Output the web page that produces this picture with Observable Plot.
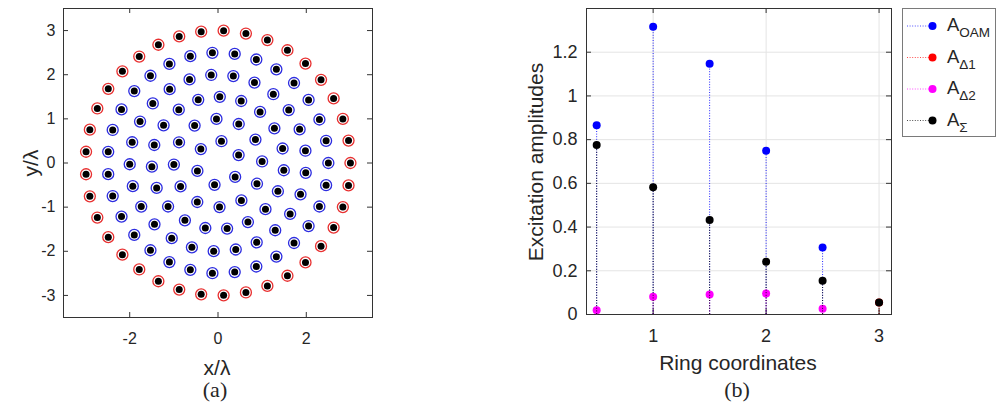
<!DOCTYPE html>
<html>
<head>
<meta charset="utf-8">
<script src="https://cdn.jsdelivr.net/npm/d3@7"></script>
<script src="https://cdn.jsdelivr.net/npm/@observablehq/plot@0.6"></script>
<style>
  body { margin: 0; background: #fff; }
  #root { position: relative; width: 1003px; height: 406px; overflow: hidden;
          font-family: "Liberation Sans", Arial, Helvetica, sans-serif; color: #262626; }
  #root > svg, .abs { position: absolute; }
  .lbl { position: absolute; white-space: nowrap; line-height: 1; transform: translate(-50%, -50%); }
  .rot { transform: translate(-50%, -50%) rotate(-90deg); }
  .serif { font-family: "Liberation Serif", "Times New Roman", serif; }
  .leg { position: absolute; left: 902px; top: 8px; width: 94px; height: 129px;
         border: 1px solid #7a7a7a; background: #fff; box-sizing: border-box; }
  .legtxt { position: absolute; left: 44px; font-size: 18.5px; line-height: 1; white-space: nowrap; }
  .legtxt sub { font-size: 13.5px; vertical-align: -6px; }
</style>
</head>
<body>
<div id="root"></div>
<script>
// ---------- Panel (a): concentric ring array ----------
const ringRadii     = [0.5, 1, 1.5, 2, 2.5, 3];        // x/λ
const ringCounts    = [6, 12, 19, 25, 31, 37];         // elements per ring
const ringStartDeg  = [21, 2, -6.3, 8, 0, 0];          // angle of first element
const ringColors    = ["#2d2de0", "#2d2de0", "#2d2de0", "#2d2de0", "#2d2de0", "#e83030"];
const aTicksX = [-2, 0, 2];
const aTicksY = [-3, -2, -1, 0, 1, 2, 3];

// ---------- Panel (b): excitation amplitudes per ring ----------
const ringCoords = [0.5, 1, 1.5, 2, 2.5, 3];
const ampOAM    = [0.866, 1.317, 1.147, 0.749, 0.307, null];
const ampDelta1 = [null, null, null, null, null, 0.055];
const ampDelta2 = [0.020, 0.081, 0.092, 0.096, 0.026, null];
const ampSigma  = [0.776, 0.582, 0.432, 0.241, 0.154, 0.055];
const bTicksX = [1, 2, 3];
const bTicksY = [0, 0.2, 0.4, 0.6, 0.8, 1, 1.2];

const seriesNames  = ["OAM", "Δ1", "Δ2", "Σ"];
const seriesValues = [ampOAM, ampDelta1, ampDelta2, ampSigma];
const seriesColors = ["#0000ff", "#ff0000", "#ff00ff", "#000000"];

// element table for panel (a)
const elements = [];
ringRadii.forEach((r, i) => {
  for (let k = 0; k < ringCounts[i]; k++) {
    const a = (ringStartDeg[i] + 360 * k / ringCounts[i]) * Math.PI / 180;
    elements.push({x: r * Math.cos(a), y: r * Math.sin(a), color: ringColors[i]});
  }
});

const root = document.getElementById("root");
const axisColor = "#333";
const fontFam = '"Liberation Sans", Arial, Helvetica, sans-serif';

// ---------- Plot (a) ----------
const aW = 400, aH = 406, aML = 63, aMR = 28, aMT = 8, aMB = 89;
const aFrame = aW - aML - aMR; // 309
const plotA = Plot.plot({
  width: aW, height: aH,
  marginLeft: aML, marginRight: aMR, marginTop: aMT, marginBottom: aMB,
  x: {domain: [-3.5, 3.5], axis: null},
  y: {domain: [-3.5, 3.5], axis: null},
  style: {fontFamily: fontFam, fontSize: "16px", color: "#262626", background: "transparent", overflow: "visible"},
  marks: [
    Plot.dot(elements, {x: "x", y: "y", r: 5.5, stroke: "color", strokeWidth: 1.3, fill: "white"}),
    Plot.dot(elements, {x: "x", y: "y", r: 3.5, fill: "#000"}),
    Plot.frame({stroke: axisColor, strokeWidth: 1}),
    Plot.ruleX(aTicksX, {x: d => d, insetTop: aFrame - 5, stroke: axisColor}),
    Plot.ruleX(aTicksX, {x: d => d, insetBottom: aFrame - 5, stroke: axisColor}),
    Plot.ruleY(aTicksY, {y: d => d, insetRight: aFrame - 5, stroke: axisColor}),
    Plot.ruleY(aTicksY, {y: d => d, insetLeft: aFrame - 5, stroke: axisColor}),
    Plot.axisX(aTicksX, {tickSize: 0, tickPadding: 15, tickFormat: d => String(d), label: null}),
    Plot.axisY(aTicksY, {tickSize: 0, tickPadding: 8, tickFormat: d => String(d), label: null})
  ]
});
plotA.style.left = "0px"; plotA.style.top = "0px";
root.appendChild(plotA);

// ---------- Plot (b) ----------
const bLeft = 480, bW = 420, bH = 406, bML = 106, bMR = 9, bMT = 8, bMB = 92;
const bFrameW = bW - bML - bMR, bFrameH = bH - bMT - bMB;
const fmtB = d => String(+d.toFixed(1));
const stemMarks = [];
seriesValues.forEach((vals, i) => {
  const data = ringCoords.map((x, j) => ({x, v: vals[j]})).filter(d => d.v != null);
  stemMarks.push(Plot.ruleX(data, {x: "x", y1: 0, y2: "v", stroke: seriesColors[i],
    strokeWidth: 1, strokeDasharray: "1,1.6", strokeOpacity: 0.85}));
  stemMarks.push(Plot.dot(data, {x: "x", y: "v", r: 4, fill: seriesColors[i]}));
});
const plotB = Plot.plot({
  width: bW, height: bH,
  marginLeft: bML, marginRight: bMR, marginTop: bMT, marginBottom: bMB,
  x: {domain: [0.41, 3.11], axis: null},
  y: {domain: [0, 1.4], axis: null},
  style: {fontFamily: fontFam, fontSize: "18px", color: "#262626", background: "transparent", overflow: "visible"},
  marks: [
    Plot.ruleX(bTicksX, {x: d => d, stroke: "#e4e4e4"}),
    Plot.ruleY(bTicksY.filter(d => d > 0), {y: d => d, stroke: "#e4e4e4"}),
    Plot.frame({stroke: axisColor, strokeWidth: 1}),
    Plot.ruleX(bTicksX, {x: d => d, insetTop: bFrameH - 5, stroke: axisColor}),
    Plot.ruleX(bTicksX, {x: d => d, insetBottom: bFrameH - 5, stroke: axisColor}),
    Plot.ruleY(bTicksY, {y: d => d, insetRight: bFrameW - 5, stroke: axisColor}),
    Plot.ruleY(bTicksY, {y: d => d, insetLeft: bFrameW - 5, stroke: axisColor}),
    ...stemMarks,
    Plot.axisX(bTicksX, {tickSize: 0, tickPadding: 15, tickFormat: fmtB, label: null}),
    Plot.axisY(bTicksY, {tickSize: 0, tickPadding: 9, tickFormat: fmtB, label: null})
  ]
});
plotB.style.left = bLeft + "px"; plotB.style.top = "0px";
root.appendChild(plotB);

// ---------- Text labels ----------
function label(text, x, y, size, cls) {
  const d = document.createElement("div");
  d.className = "lbl " + (cls || "");
  d.style.left = x + "px"; d.style.top = y + "px"; d.style.fontSize = size + "px";
  d.textContent = text;
  root.appendChild(d);
}
label("y/λ", 30, 163, 21, "rot");
label("x/λ", 217, 367, 21);
label("(a)", 215, 390, 22, "serif");
label("Excitation amplitudes", 535, 162, 21, "rot");
label("Ring coordinates", 738, 362, 21);
label("(b)", 737, 390, 22, "serif");

// ---------- Legend ----------
const leg = document.createElement("div");
leg.className = "leg";
const ns = "http://www.w3.org/2000/svg";
const lsvg = document.createElementNS(ns, "svg");
lsvg.setAttribute("width", 92); lsvg.setAttribute("height", 127);
lsvg.style.position = "absolute"; lsvg.style.left = "0px"; lsvg.style.top = "0px";
const entryY = [17, 48.5, 80, 111.5];
seriesNames.forEach((name, i) => {
  const ln = document.createElementNS(ns, "line");
  ln.setAttribute("x1", 4); ln.setAttribute("x2", 29);
  ln.setAttribute("y1", entryY[i]); ln.setAttribute("y2", entryY[i]);
  ln.setAttribute("stroke", seriesColors[i]); ln.setAttribute("stroke-width", 1);
  ln.setAttribute("stroke-dasharray", "1,1.6"); ln.setAttribute("stroke-opacity", 0.7);
  lsvg.appendChild(ln);
  const c = document.createElementNS(ns, "circle");
  c.setAttribute("cx", 29.5); c.setAttribute("cy", entryY[i]); c.setAttribute("r", 4);
  c.setAttribute("fill", seriesColors[i]);
  lsvg.appendChild(c);
  const t = document.createElement("div");
  t.className = "legtxt";
  t.style.top = (entryY[i] - 10) + "px";
  t.innerHTML = "A<sub>" + name + "</sub>";
  leg.appendChild(t);
});
leg.appendChild(lsvg);
root.appendChild(leg);
</script>
</body>
</html>
